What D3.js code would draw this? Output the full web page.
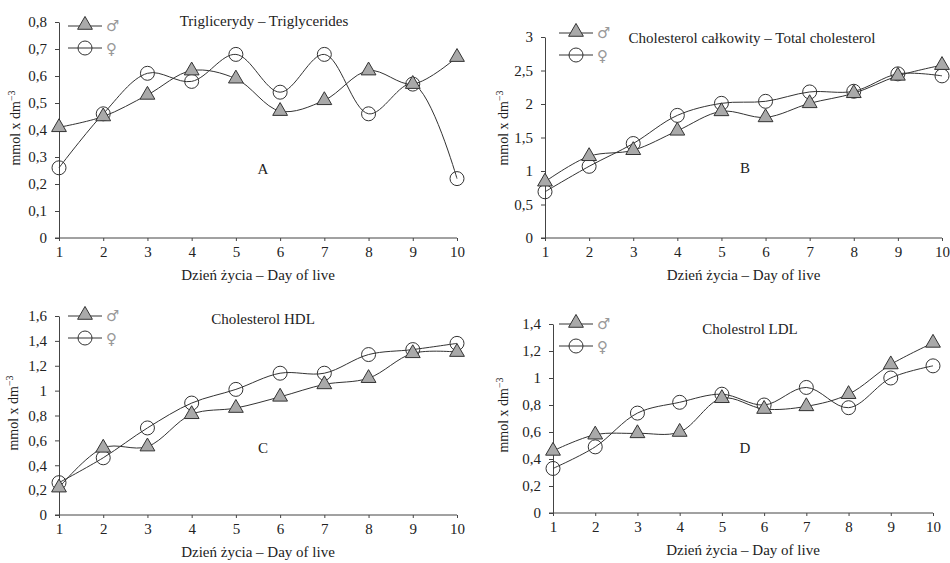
<!DOCTYPE html>
<html>
<head>
<meta charset="utf-8">
<script src="https://cdn.jsdelivr.net/npm/d3@7"></script>
<style>
  body { margin: 0; background: #fff; }
  svg { display: block; font-family: "Liberation Serif", "Times New Roman", serif; }
  .domain, .tick line { stroke: #444; }
</style>
</head>
<body>
<svg width="950" height="563"></svg>
<script>
// dni zycia
const days = [1, 2, 3, 4, 5, 6, 7, 8, 9, 10]

// A - triglicerydy
const trigMale   = [0.41, 0.45, 0.53, 0.62, 0.59, 0.47, 0.51, 0.62, 0.57, 0.67]
const trigFemale = [0.26, 0.46, 0.61, 0.58, 0.68, 0.54, 0.68, 0.46, 0.57, 0.22]
// B - cholesterol calkowity
const totalMale   = [0.84, 1.22, 1.31, 1.60, 1.89, 1.80, 2.01, 2.16, 2.42, 2.58]
const totalFemale = [0.69, 1.07, 1.41, 1.83, 2.01, 2.04, 2.18, 2.19, 2.45, 2.42]
// C - HDL
const hdlMale   = [0.22, 0.54, 0.55, 0.81, 0.86, 0.95, 1.05, 1.10, 1.30, 1.31]
const hdlFemale = [0.26, 0.46, 0.70, 0.90, 1.01, 1.14, 1.14, 1.29, 1.33, 1.38]
// D - LDL
const ldlMale   = [0.46, 0.58, 0.59, 0.60, 0.85, 0.77, 0.79, 0.88, 1.10, 1.26]
const ldlFemale = [0.33, 0.49, 0.74, 0.82, 0.88, 0.80, 0.93, 0.78, 1.00, 1.09]

const titles = ['Triglicerydy – Triglycerides', 'Cholesterol całkowity – Total cholesterol',
                'Cholesterol HDL', 'Cholestrol LDL']
const letters = ['A', 'B', 'C', 'D']
const yMaxes = [0.8, 3, 1.6, 1.4]
const ySteps = [0.1, 0.5, 0.2, 0.2]
const xTitle = 'Dzień życia – Day of live'

// uklad paneli
const panels = [
  {x0: 59,  x1: 457, yTop: 22,  yBot: 238, male: trigMale,  female: trigFemale,
   titleX: 264, titleY: 26,  letX: 263, letY: 174, labX: 20,  labY: 128, legX: 68,  legY: 26},
  {x0: 545, x1: 942, yTop: 37,  yBot: 238, male: totalMale, female: totalFemale,
   titleX: 752, titleY: 43,  letX: 745, letY: 173, labX: 508, labY: 128, legX: 559, legY: 33},
  {x0: 59,  x1: 457, yTop: 316, yBot: 515, male: hdlMale,   female: hdlFemale,
   titleX: 263, titleY: 324, letX: 263, letY: 453, labX: 18,  labY: 413, legX: 68,  legY: 316},
  {x0: 553, x1: 933, yTop: 324, yBot: 513, male: ldlMale,   female: ldlFemale,
   titleX: 750, titleY: 334, letX: 745, letY: 453, labX: 508, labY: 415, legX: 559, legY: 324}
]

const svg = d3.select('svg')
const fmt = (d) => d3.format('.1~f')(d).replace('.', ',')
const triangle = d3.symbol().type(d3.symbolTriangle).size(95)

function styleAxis(ax){
  ax.attr('font-family', 'Liberation Serif').attr('font-size', 15)
  ax.selectAll('text').attr('fill', '#222')
}

function drawPanel(p, i){
  const g = svg.append('g')
  const xScale = d3.scaleLinear().domain([1, 10]).range([p.x0, p.x1])
  const yScale = d3.scaleLinear().domain([0, yMaxes[i]]).range([p.yBot, p.yTop])
  const yTicks = d3.range(0, yMaxes[i] + ySteps[i] / 2, ySteps[i])

  g.append('g')
   .attr('transform', 'translate(0,' + p.yBot + ')')
   .call(d3.axisBottom(xScale).tickValues(days).tickSize(3).tickSizeOuter(0).tickPadding(5).tickFormat(d3.format('d')))
   .call(ax => ax.select('.domain').attr('d', 'M' + (p.x0 - 4) + ',0H' + p.x1))
   .call(styleAxis)

  g.append('g')
   .attr('transform', 'translate(' + p.x0 + ',0)')
   .call(d3.axisLeft(yScale).tickValues(yTicks).tickSize(4).tickSizeOuter(0).tickPadding(8).tickFormat(fmt))
   .call(styleAxis)

  const line = d3.line()
    .x((d, j) => xScale(days[j]))
    .y((d) => yScale(d))
    .curve(d3.curveCatmullRom.alpha(0.5))

  g.append('path').attr('d', line(p.female)).attr('fill', 'none').attr('stroke', '#333').attr('stroke-width', 1)
  g.append('path').attr('d', line(p.male)).attr('fill', 'none').attr('stroke', '#333').attr('stroke-width', 1)

  g.selectAll('.fem').data(p.female).enter().append('circle')
   .attr('cx', (d, j) => xScale(days[j])).attr('cy', (d) => yScale(d))
   .attr('r', 7).attr('fill', 'none').attr('stroke', '#333').attr('stroke-width', 1)

  g.selectAll('.mal').data(p.male).enter().append('path')
   .attr('d', triangle)
   .attr('transform', (d, j) => 'translate(' + xScale(days[j]) + ',' + yScale(d) + ')')
   .attr('fill', '#a9a9a9').attr('stroke', '#333').attr('stroke-width', 1)

  // legenda
  const leg = g.append('g').attr('transform', 'translate(' + p.legX + ',' + p.legY + ')')
  leg.append('line').attr('x1', 0).attr('x2', 34).attr('y1', 0).attr('y2', 0).attr('stroke', '#333')
  leg.append('path').attr('d', triangle).attr('transform', 'translate(17,-1)')
     .attr('fill', '#a9a9a9').attr('stroke', '#333')
  leg.append('text').attr('x', 38).attr('y', 5).attr('font-size', 15).attr('fill', '#999')
     .attr('font-family', 'DejaVu Sans').text('♂')
  leg.append('line').attr('x1', 0).attr('x2', 34).attr('y1', 22).attr('y2', 22).attr('stroke', '#333')
  leg.append('circle').attr('cx', 17).attr('cy', 22).attr('r', 7).attr('fill', 'none').attr('stroke', '#333')
  leg.append('text').attr('x', 38).attr('y', 28).attr('font-size', 15).attr('fill', '#999')
     .attr('font-family', 'DejaVu Sans').text('♀')

  g.append('text').attr('x', p.titleX).attr('y', p.titleY).attr('text-anchor', 'middle')
   .attr('font-size', 15).attr('fill', '#222').text(titles[i])
  g.append('text').attr('x', p.letX).attr('y', p.letY).attr('text-anchor', 'middle')
   .attr('font-size', 15).attr('fill', '#222').text(letters[i])
  g.append('text').attr('x', (p.x0 + p.x1) / 2).attr('y', p.yBot + 42).attr('text-anchor', 'middle')
   .attr('font-size', 15).attr('fill', '#222').text(xTitle)

  const lab = g.append('text')
    .attr('transform', 'translate(' + p.labX + ',' + p.labY + ') rotate(-90)')
    .attr('text-anchor', 'middle').attr('font-size', 14).attr('fill', '#222')
  lab.append('tspan').text('mmol x dm')
  lab.append('tspan').attr('dy', -5).attr('font-size', 10).text('−3')
}

panels.forEach(drawPanel)
</script>
</body>
</html>
